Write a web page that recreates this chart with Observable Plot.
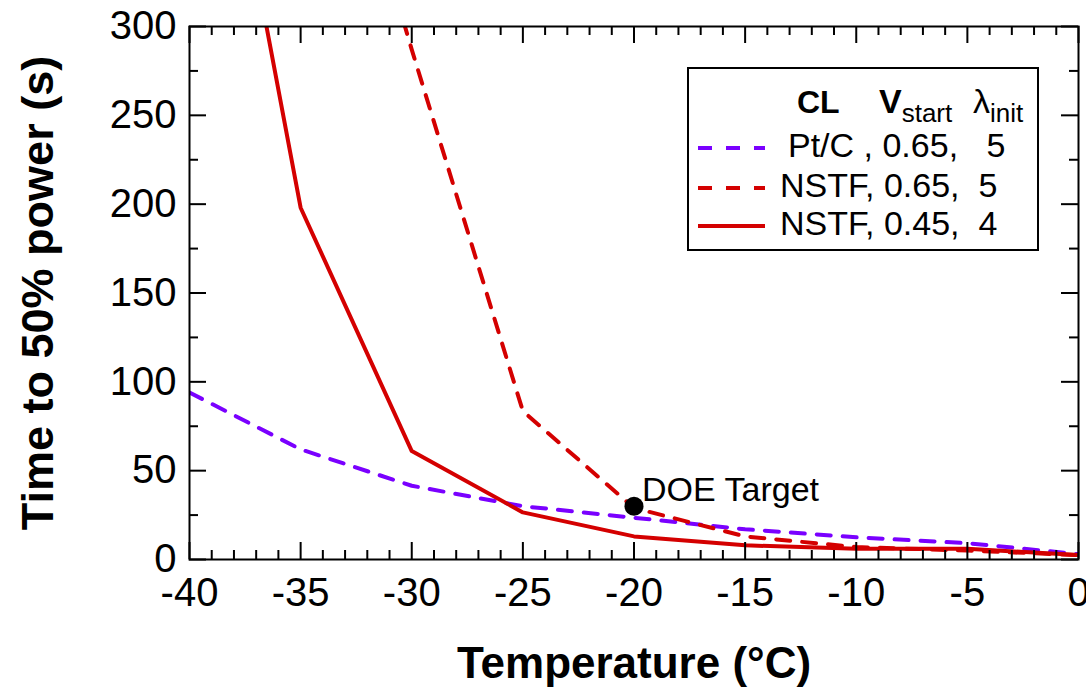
<!DOCTYPE html>
<html><head><meta charset="utf-8">
<script src="https://cdn.jsdelivr.net/npm/d3@7"></script>
<script src="https://cdn.jsdelivr.net/npm/@observablehq/plot@0.6"></script>
<style>
body{margin:0;background:#fff;}
#wrap{position:relative;width:1086px;height:700px;font-family:"Liberation Sans",Arial,sans-serif;}
#wrap svg.leg{position:absolute;left:0;top:0;}
</style></head><body><div id="wrap"></div>
<script>
// ---- data ----
const ptcTemp  = [-40, -35, -30, -25, -20, -15, -10, -5, 0];
const ptcTime  = [94, 62, 41.5, 30, 23.5, 17, 12.5, 9.2, 3];
const nstf65Temp = [-35, -30, -25, -20, -15, -10, -5, 0];
const nstf65Time = [500, 287, 83.5, 29, 13, 7, 5, 2.5];
const nstf45Temp = [-40, -35, -30, -25, -20, -15, -10, -5, 0];
const nstf45Time = [530, 198, 61, 26.5, 13, 8, 6, 6, 2.5];
const doeTarget = [{temp: -20, time: 30, label: "DOE Target"}];
const xMajor = [-40, -35, -30, -25, -20, -15, -10, -5, 0];
const xMinor = d3.range(-40, 1, 1).filter(v => v % 5 !== 0);
const yMajor = [0, 50, 100, 150, 200, 250, 300];
const yMinor = [25, 75, 125, 175, 225, 275];
const legendRows = ["Pt/C , 0.65,   5", "NSTF, 0.65,  5", "NSTF, 0.45,  4"];

const purple = "#7a00ff", red = "#d40000";
const ptc = ptcTemp.map((t, i) => ({temp: t, time: ptcTime[i]}));
const n65 = nstf65Temp.map((t, i) => ({temp: t, time: nstf65Time[i]}));
const n45 = nstf45Temp.map((t, i) => ({temp: t, time: nstf45Time[i]}));

const MAJ = 17, MIN = 9;
const chart = Plot.plot({
  width: 1086, height: 700,
  marginLeft: 189, marginRight: 8, marginTop: 26, marginBottom: 141,
  style: {fontFamily: '"Liberation Sans", Arial, sans-serif', background: "white", color: "black", overflow: "visible"},
  x: {domain: [-40, 0]},
  y: {domain: [0, 300]},
  marks: [
    Plot.line(ptc, {x: "temp", y: "time", stroke: purple, strokeWidth: 4, strokeDasharray: "14,12", clip: true}),
    Plot.line(n65, {x: "temp", y: "time", stroke: red, strokeWidth: 4, strokeDasharray: "14,12", clip: true}),
    Plot.line(n45, {x: "temp", y: "time", stroke: red, strokeWidth: 4, clip: true}),
    Plot.dot(doeTarget, {x: "temp", y: "time", r: 9.5, fill: "black"}),
    Plot.text(doeTarget, {x: "temp", y: "time", text: "label", dx: 8, dy: -16, textAnchor: "start", fontSize: 34, fill: "black"}),
    // ticks (inward) on all four sides
    Plot.ruleX(xMajor, {y1: 0, y2: 0, insetBottom: MAJ, stroke: "black", strokeWidth: 2}),
    Plot.ruleX(xMinor, {y1: 0, y2: 0, insetBottom: MIN, stroke: "black", strokeWidth: 2}),
    Plot.ruleX(xMajor, {y1: 300, y2: 300, insetTop: MAJ, stroke: "black", strokeWidth: 2}),
    Plot.ruleX(xMinor, {y1: 300, y2: 300, insetTop: MIN, stroke: "black", strokeWidth: 2}),
    Plot.ruleY(yMajor, {x1: -40, x2: -40, insetRight: -MAJ, stroke: "black", strokeWidth: 2}),
    Plot.ruleY(yMinor, {x1: -40, x2: -40, insetRight: -MIN, stroke: "black", strokeWidth: 2}),
    Plot.ruleY(yMajor, {x1: 0, x2: 0, insetLeft: -MAJ, stroke: "black", strokeWidth: 2}),
    Plot.ruleY(yMinor, {x1: 0, x2: 0, insetLeft: -MIN, stroke: "black", strokeWidth: 2}),
    Plot.frame({stroke: "black", strokeWidth: 2}),
    Plot.axisX({ticks: xMajor, tickSize: 0, tickPadding: 18, tickFormat: d => `${d}`, fontSize: 40, label: null}),
    Plot.axisY({ticks: yMajor, tickSize: 0, tickPadding: 13, tickFormat: d => `${d}`, fontSize: 40, label: null}),
    Plot.text(["Temperature (°C)"], {frameAnchor: "bottom", dy: 118, fontSize: 44, fontWeight: "bold", fill: "black"}),
    Plot.text(["Time to 50% power (s)"], {frameAnchor: "left", dx: -151, rotate: -90, textAnchor: "middle", fontSize: 45, fontWeight: "bold", fill: "black"})
  ]
});
const wrap = document.getElementById("wrap");
wrap.appendChild(chart);

// ---- legend overlay ----
const leg = d3.select(wrap).append("svg").attr("class", "leg")
  .attr("width", 1086).attr("height", 700)
  .style("font-family", '"Liberation Sans", Arial, sans-serif');
leg.append("rect").attr("x", 688).attr("y", 68).attr("width", 350).attr("height", 182)
  .attr("fill", "white").attr("stroke", "black").attr("stroke-width", 2);
leg.append("text").attr("x", 797).attr("y", 113).attr("font-size", 32).attr("font-weight", "bold").text("CL");
const h2 = leg.append("text").attr("x", 879).attr("y", 113).attr("font-size", 34);
h2.append("tspan").attr("font-weight", "bold").text("V");
h2.append("tspan").attr("font-size", 26).attr("dy", 9).text("start");
const h3 = leg.append("text").attr("x", 973).attr("y", 113).attr("font-size", 34);
h3.append("tspan").text("λ");
h3.append("tspan").attr("font-size", 26).attr("dy", 9).text("init");
const rowY = [157, 197, 235], rowX = [788, 780, 780];
const rowStyle = [{c: purple, d: "14,14"}, {c: red, d: "14,14"}, {c: red, d: null}];
legendRows.forEach((txt, i) => {
  const ly = rowY[i] - 9;
  const ln = leg.append("line").attr("x1", 698).attr("x2", 765).attr("y1", ly).attr("y2", ly)
    .attr("stroke", rowStyle[i].c).attr("stroke-width", 4);
  if (rowStyle[i].d) ln.attr("stroke-dasharray", rowStyle[i].d);
  leg.append("text").attr("x", rowX[i]).attr("y", rowY[i]).attr("font-size", 34)
    .style("white-space", "pre").attr("xml:space", "preserve").text(txt);
});
</script></body></html>
